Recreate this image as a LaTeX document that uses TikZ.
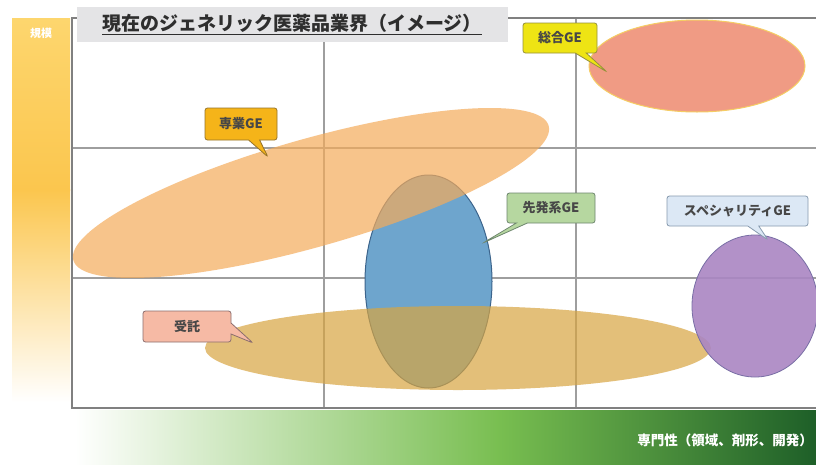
\documentclass[tikz,border=0pt]{standalone}
\usepackage{fontspec}
\newfontfamily\jp{Noto Sans CJK JP}
\usetikzlibrary{shapes.geometric,shapes.callouts}
\definecolor{orangeE}{RGB}{244,171,91}
\definecolor{tanE}{RGB}{216,165,65}
\definecolor{blueE}{RGB}{110,165,205}
\definecolor{blueB}{RGB}{60,100,140}
\definecolor{purpleE}{RGB}{170,134,195}
\definecolor{purpleB}{RGB}{120,110,165}
\definecolor{salmonE}{RGB}{240,155,132}
\definecolor{salmonB}{RGB}{245,205,100}
\definecolor{titlegray}{RGB}{228,228,230}
\definecolor{yellowC}{RGB}{238,228,20}
\definecolor{yellowCB}{RGB}{150,145,60}
\definecolor{amberC}{RGB}{245,180,25}
\definecolor{amberCB}{RGB}{150,115,40}
\definecolor{greenC}{RGB}{182,215,160}
\definecolor{greenCB}{RGB}{110,135,110}
\definecolor{lblueC}{RGB}{220,232,245}
\definecolor{lblueCB}{RGB}{135,155,175}
\definecolor{pinkC}{RGB}{246,186,165}
\definecolor{pinkCB}{RGB}{140,110,110}
\definecolor{ybarA}{RGB}{253,214,110}
\definecolor{ybarB}{RGB}{251,198,78}
\definecolor{xbarA}{RGB}{120,190,80}
\definecolor{xbarB}{RGB}{30,95,40}
\begin{document}
\begin{tikzpicture}[x=1pt,y=-1pt,
  every node/.style={font=\jp},
  ell/.style={ellipse, inner sep=0pt, outer sep=0pt},
  gridline/.style={draw=black!38, line width=1.2pt},
  framel/.style={draw=black!50, line width=1.6pt},
  callbox/.style={rectangle callout, rounded corners=2.5pt, inner sep=0pt,
    font=\jp\bfseries\fontsize{13}{14}\selectfont, text=black!72,
    line width=0.8pt, callout pointer width=11pt},
]
\useasboundingbox (0,0) rectangle (816,464);
\fill[white] (0,0) rectangle (816,464);
% vertical axis bar
\shade[top color=ybarA, bottom color=ybarB] (12,18) rectangle (70,190);
\shade[top color=ybarB, bottom color=white] (12,189.5) rectangle (70,402);
% horizontal axis bar
\shade[left color=white, right color=xbarA] (75,410) rectangle (500.5,464);
\shade[left color=xbarA, right color=xbarB] (500,410) rectangle (816,464);
% grid
\coordinate (g1t) at (324,18); \coordinate (g1b) at (324,408);
\coordinate (g2t) at (576,18); \coordinate (g2b) at (576,408);
\coordinate (h1l) at (72,148); \coordinate (h1r) at (816,148);
\coordinate (h2l) at (72,278); \coordinate (h2r) at (816,278);
\draw[gridline] (g1t) -- (g1b);
\draw[gridline] (g2t) -- (g2b);
\draw[gridline] (h1l) -- (h1r);
\draw[gridline] (h2l) -- (h2r);
\coordinate (ftr) at (816,18); \coordinate (ftl) at (72,18);
\coordinate (fbl) at (72,408); \coordinate (fbr) at (816,408);
\draw[framel] (ftr) -- (ftl) -- (fbl) -- (fbr);
% ellipses
\node[ell, fill=blueE, draw=blueB, line width=1pt, minimum width=127pt, minimum height=213pt] (senpatsu) at (428.5,281.5) {};
\node[ell, fill=orangeE, fill opacity=0.7, minimum width=494pt, minimum height=108pt, rotate=15.8] (sengyo) at (311,193) {};
\node[ell, fill=tanE, fill opacity=0.7, minimum width=506pt, minimum height=84pt] (jutaku) at (458,348) {};
\node[ell, fill=purpleE, fill opacity=0.9, draw=purpleB, line width=0.8pt, minimum width=126pt, minimum height=142pt] (special) at (755,306) {};
\node[ell, fill=salmonE, draw=salmonB, line width=1pt, minimum width=216pt, minimum height=92pt] (sogo) at (697,66) {};
% title
\node[fill=titlegray, minimum width=431pt, minimum height=35pt, inner sep=0pt, text=black!82,
  font=\jp\bfseries\fontsize{19}{21}\selectfont] (title) at (292,24.5) {\underline{現在のジェネリック医薬品業界（イメージ）}};
% axis labels
\node[text=white, font=\jp\bfseries\fontsize{11}{12}\selectfont] (ylab) at (41,33) {規模};
\node[anchor=east, text=white, font=\jp\bfseries\fontsize{13.5}{15}\selectfont, inner sep=1pt] (xlab) at (814,440) {専門性（領域、剤形、開発）};
% callouts
\coordinate (tSogo) at (607,72);
\coordinate (tSengyo) at (268,157);
\coordinate (tSenpatsu) at (483,243);
\coordinate (tSpecial) at (768,240);
\coordinate (tJutaku) at (253,343);
\node[callbox, fill=yellowC, draw=yellowCB, minimum width=74pt, minimum height=30pt, callout absolute pointer={(tSogo)}] (cSogo) at (560,38) {総合GE};
\node[callbox, fill=amberC, draw=amberCB, minimum width=72pt, minimum height=32pt, callout absolute pointer={(tSengyo)}] (cSengyo) at (241,124) {専業GE};
\node[callbox, fill=greenC, draw=greenCB, minimum width=88pt, minimum height=30pt, callout absolute pointer={(tSenpatsu)}] (cSenpatsu) at (551,208) {先発系GE};
\node[callbox, fill=lblueC, draw=lblueCB, minimum width=141pt, minimum height=30pt, callout absolute pointer={(tSpecial)}] (cSpecial) at (737.5,211) {スペシャリティGE};
\node[callbox, fill=pinkC, draw=pinkCB, minimum width=88pt, minimum height=31pt, callout absolute pointer={(tJutaku)}] (cJutaku) at (187,326.5) {受託};
\end{tikzpicture}
\end{document}
